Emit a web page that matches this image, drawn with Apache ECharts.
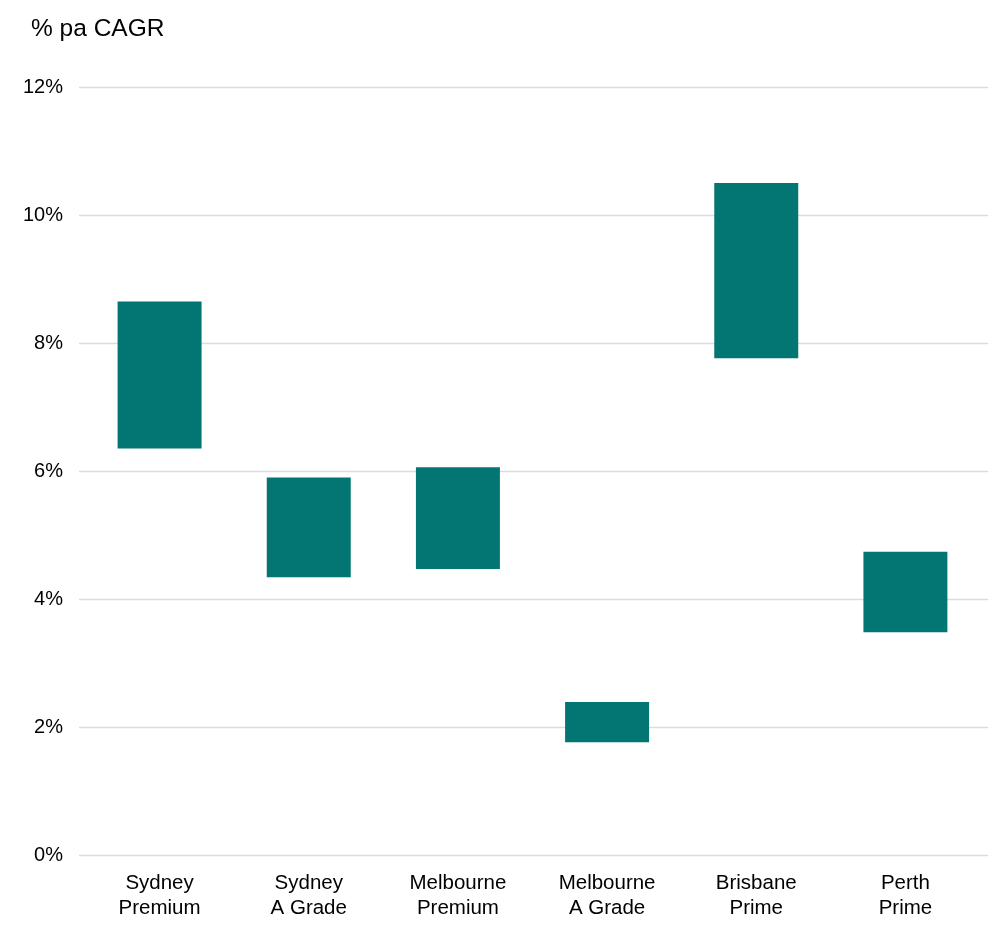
<!DOCTYPE html>
<html><head><meta charset="utf-8">
<script src="https://cdn.jsdelivr.net/npm/echarts@6/dist/echarts.min.js"></script>
<style>html,body{margin:0;padding:0;background:#fff}#c{width:1005px;height:936px}</style>
</head><body><div id="c"></div>
<script>
const categories = ['Sydney\nPremium', 'Sydney\nA Grade', 'Melbourne\nPremium', 'Melbourne\nA Grade', 'Brisbane\nPrime', 'Perth\nPrime'];
const lowValues = [6.35, 4.34, 4.47, 1.76, 7.76, 3.48];
const highValues = [8.65, 5.90, 6.06, 2.39, 10.50, 4.74];
const yTicks = [0, 2, 4, 6, 8, 10, 12];

const rangeValues = highValues.map((h, i) => +(h - lowValues[i]).toFixed(2));
const font = 'Liberation Sans, Arial, sans-serif';
const chart = echarts.init(document.getElementById('c'), null, {renderer: 'canvas'});
chart.setOption({
  animation: false,
  backgroundColor: '#ffffff',
  title: {
    text: '% pa CAGR', left: 26, top: 12,
    textStyle: {fontFamily: font, fontSize: 24.5, fontWeight: 'normal', color: '#000'}
  },
  grid: [
    {left: 79, right: 17, top: 87, bottom: 936 - 855, containLabel: false},
    {left: 85, right: 25, top: 87, bottom: 936 - 855, containLabel: false}
  ],
  xAxis: [
    {type: 'category', gridIndex: 0, data: categories, show: false},
    {type: 'category', gridIndex: 1, data: categories,
     axisLine: {show: false}, axisTick: {show: false},
     axisLabel: {fontFamily: font, fontSize: 20.5, color: '#000', lineHeight: 25, margin: 16}}
  ],
  yAxis: [
    {type: 'value', gridIndex: 0, min: 0, max: 12, interval: 2,
     axisLine: {show: false}, axisTick: {show: false},
     axisLabel: {fontFamily: font, fontSize: 20, color: '#000', margin: 16,
       formatter: v => yTicks.includes(v) ? v + '%' : ''},
     splitLine: {show: true, lineStyle: {color: '#d9dde1', width: 1.3}}},
    {type: 'value', gridIndex: 1, min: 0, max: 12, interval: 2, show: false,
     splitLine: {show: false}}
  ],
  series: [
    {type: 'bar', xAxisIndex: 1, yAxisIndex: 1, stack: 'r', data: lowValues,
     itemStyle: {color: 'transparent'}, barWidth: '56.3%', silent: true},
    {type: 'bar', xAxisIndex: 1, yAxisIndex: 1, stack: 'r', data: rangeValues,
     itemStyle: {color: '#037673'}, barWidth: '56.3%'}
  ]
});
</script></body></html>
